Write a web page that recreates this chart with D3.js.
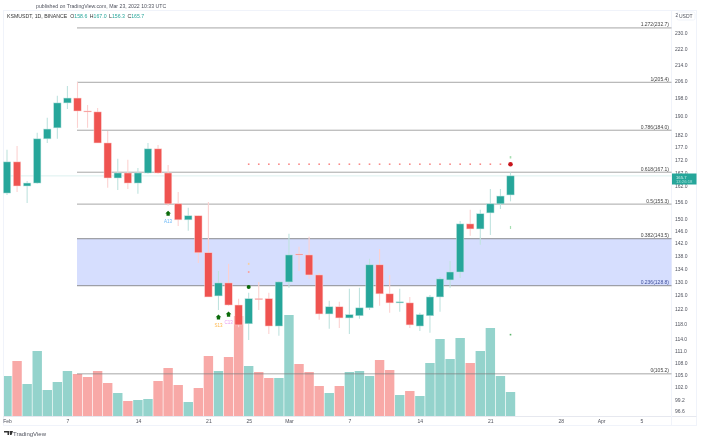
<!DOCTYPE html>
<html>
<head>
<meta charset="utf-8">
<script src="https://d3js.org/d3.v7.min.js"></script>
<style>
  html, body { margin: 0; padding: 0; background: #fff; }
  #chart { filter: blur(0.3px); }
  text { font-family: "Liberation Sans", sans-serif; }
  .axis path, .axis line { display: none; }
  .axis text { font-family: "Liberation Sans", sans-serif; font-size: 5px; fill: #50535e; }
</style>
</head>
<body>
<svg id="chart" width="701" height="440"></svg>
<script>
// daily candles, Feb 1 to Mar 23 2022
var opens  = [159.3,171.1,161.9,163.0,180.4,185.0,195.9,198.1,192.3,191.9,178.7,164.9,166.8,163.0,166.8,176.3,166.8,155.4,149.8,151.2,138.9,125.8,129.6,123.2,118.0,125.0,125.0,117.4,129.9,138.5,138.2,132.0,120.7,122.7,119.6,120.2,122.4,135.1,126.4,123.8,123.8,117.4,120.2,125.5,130.5,132.9,148.4,146.7,152.2,155.4,158.6];
var highs  = [175.9,177.5,163.8,182.9,189.3,199.1,203.7,205.5,195.0,193.6,183.7,172.3,171.9,168.7,178.7,177.9,169.9,159.7,154.0,151.2,156.1,133.2,135.4,125.0,126.7,129.9,126.7,130.2,145.1,140.8,144.1,132.6,124.4,124.1,127.9,128.2,137.0,140.1,132.0,127.9,125.5,121.0,126.1,131.4,136.3,149.4,153.3,153.3,160.8,160.8,167.0];
var lows   = [158.6,159.7,155.7,162.7,178.7,180.4,193.2,185.0,185.0,178.7,161.2,160.4,160.8,159.0,166.5,166.5,154.7,147.7,146.1,135.7,125.5,121.8,123.0,117.1,113.7,121.8,115.3,114.8,128.2,133.2,130.8,119.1,116.7,116.9,115.3,119.4,121.8,123.0,121.0,121.3,116.9,116.1,115.6,121.3,128.2,131.1,144.4,141.5,144.7,153.6,156.3];
var closes = [171.1,161.9,163.0,180.4,184.5,195.9,198.1,192.3,191.9,178.7,164.9,166.8,163.0,166.8,176.3,166.8,155.4,149.8,151.2,138.9,125.5,129.6,123.2,117.7,125.0,124.8,117.4,129.9,138.2,138.2,132.0,120.7,122.7,119.6,120.5,122.4,135.1,126.4,123.8,124.1,117.7,120.5,125.5,130.8,132.9,148.4,146.7,151.9,155.4,158.2,165.7];
var volumes = [40,55,32,65,26,34,45,42,39,45,33,23,15,16,17,35,48,31,14,28,60,45,59,100,50,44,38,38,101,52,44,30,23,30,44,45,40,56,46,21,25,20,53,77,57,78,53,65,88,40,24];

// fibonacci retracement
var fibRatios = ["1.272","1","0.786","0.618","0.5","0.382","0.236","0"];
var fibPrices = [232.7,205.4,184.0,167.1,155.3,143.5,128.8,105.2];

// axis ticks
var priceTicks = [230,222,214,206,198,190,182,177,172,167,162,156,150,146,142,138,134,130,126,122,118,114,111,108,105,102,99.2,96.6];
var timeTickDays = [0,6,13,20,24,28,34,41,48,55,59,63];
var timeTickLabels = ["Feb","7","14","21","25","Mar","7","14","21","28","Apr","5"];

// indicator marks
var stopDays = [24,25,26,27,28,29,30,31,32,33,34,35,36,37,38,39,40,41,42,43,44,45,46,47,48,49];
var stopPrice = 170.2;
var signalDays = [16,21,22];
var signalPrices = [152.0,119.8,120.6];
var signalLabels = ["A13","S13","C13"];
var signalColors = ["#64b5f6","#ffb74d","#e79cf0"];

var green = "#26a69a", red = "#ef5350";
var svg = d3.select("#chart");

var x = d3.scaleLinear().domain([0, 50]).range([7, 510.5]);
var y = d3.scaleLog().domain([230, 96.6]).range([33, 411]);
var vol = d3.scaleLinear().domain([0, 100]).range([416, 316]);
var days = d3.range(opens.length);
function isUp(i) { return closes[i] >= opens[i]; }

// keep marks inside the pane
svg.append("clipPath").attr("id", "pane").append("rect")
	.attr("x", 4).attr("y", 11).attr("width", 667.5).attr("height", 405);

// frame
svg.append("rect").attr("x", 3.5).attr("y", 10.5).attr("width", 693).attr("height", 415)
	.attr("fill", "none").attr("stroke", "#f0f3fa");
svg.append("line").attr("x1", 3.5).attr("x2", 696.5).attr("y1", 416.5).attr("y2", 416.5).attr("stroke", "#e6e8ef");
svg.append("line").attr("x1", 671.5).attr("x2", 671.5).attr("y1", 10.5).attr("y2", 425.5).attr("stroke", "#f0f3fa");

// zone between 0.382 and 0.236
svg.append("rect")
	.attr("x", 77).attr("width", 594.5)
	.attr("y", y(143.5)).attr("height", y(128.8) - y(143.5))
	.attr("fill", "#d6defe");

// volume
svg.append("g").attr("clip-path", "url(#pane)").selectAll("rect").data(days).enter().append("rect")
	.attr("x", function(d) { return x(d) - 4.7; })
	.attr("width", 9.4)
	.attr("y", function(d) { return vol(volumes[d]); })
	.attr("height", function(d) { return 416 - vol(volumes[d]); })
	.attr("fill", function(d) { return isUp(d) ? "#94d3cc" : "#f8a9a7"; });

// last price line
svg.append("line").attr("x1", 3.5).attr("x2", 671.5)
	.attr("y1", y(165.7)).attr("y2", y(165.7))
	.attr("stroke", green).attr("stroke-opacity", 0.2).attr("stroke-width", 0.8);

// fib levels
var fib = svg.append("g").selectAll("g").data(fibPrices).enter().append("g");
fib.append("line")
	.attr("x1", 77).attr("x2", 671.5)
	.attr("y1", function(d) { return y(d); })
	.attr("y2", function(d) { return y(d); })
	.attr("stroke", "#787878").attr("stroke-opacity", 0.65)
	.attr("stroke-width", function(d) { return (d == 143.5 || d == 128.8) ? 1.3 : 1; });
fib.append("text")
	.attr("x", 669)
	.attr("y", function(d) { return y(d) - 1.5; })
	.attr("text-anchor", "end")
	.attr("font-size", 5)
	.attr("fill", function(d) { return d == 128.8 ? "#3f4f9a" : "#444"; })
	.text(function(d, i) { return fibRatios[i] + "(" + d.toFixed(1) + ")"; });

// candles
var candles = svg.append("g").selectAll("g").data(days).enter().append("g");
candles.append("line")
	.attr("x1", function(d) { return x(d); })
	.attr("x2", function(d) { return x(d); })
	.attr("y1", function(d) { return y(highs[d]); })
	.attr("y2", function(d) { return y(lows[d]); })
	.attr("stroke", function(d) { return isUp(d) ? "#bfe3df" : "#fcd2d1"; })
	.attr("stroke-width", 1.1);
candles.append("rect")
	.attr("x", function(d) { return x(d) - 3.7; })
	.attr("width", 7.4)
	.attr("y", function(d) { return y(Math.max(opens[d], closes[d])); })
	.attr("height", function(d) { return Math.max(0.8, Math.abs(y(opens[d]) - y(closes[d]))); })
	.attr("fill", function(d) { return isUp(d) ? green : red; })
	.attr("stroke", function(d) { return isUp(d) ? "#bfe3df" : "#fcd2d1"; })
	.attr("stroke-width", 0.5);

// dotted stop line
svg.append("g").selectAll("rect").data(stopDays).enter().append("rect")
	.attr("x", function(d) { return x(d) - 0.8; })
	.attr("y", y(stopPrice) - 0.8)
	.attr("width", 1.6).attr("height", 1.6)
	.attr("fill", "#f88a88");

// house shaped signal marks
var house = { draw: function(c, s) {
	var r = Math.sqrt(s) / 2;
	c.moveTo(0, -r * 1.2);
	c.lineTo(r * 1.2, 0);
	c.lineTo(r * 0.7, 0);
	c.lineTo(r * 0.7, r);
	c.lineTo(-r * 0.7, r);
	c.lineTo(-r * 0.7, 0);
	c.lineTo(-r * 1.2, 0);
	c.closePath();
} };
var signals = svg.append("g").selectAll("g").data(signalDays).enter().append("g")
	.attr("transform", function(d, i) { return "translate(" + x(d) + "," + y(signalPrices[i]) + ")"; });
signals.append("path").attr("d", d3.symbol().type(house).size(22)).attr("fill", "#0b6b0b");
signals.append("text")
	.attr("y", 9.5).attr("text-anchor", "middle").attr("font-size", 4.5)
	.attr("fill", function(d, i) { return signalColors[i]; })
	.text(function(d, i) { return signalLabels[i]; });

// marks over day 24
svg.append("circle").attr("cx", x(24)).attr("cy", y(128.4)).attr("r", 2).attr("fill", "#0b6b0b");
svg.append("rect").attr("x", x(24) - 0.8).attr("y", y(132.9) - 1).attr("width", 1.6).attr("height", 2).attr("fill", "#f6a6a6");
svg.append("rect").attr("x", x(24) - 0.8).attr("y", y(135.4) - 1).attr("width", 1.6).attr("height", 2).attr("fill", "#f7cfa0");

// marks over the last day
svg.append("circle").attr("cx", x(50)).attr("cy", y(stopPrice)).attr("r", 2.3).attr("fill", "#c8161d");
svg.append("rect").attr("x", x(50) - 0.8).attr("y", y(173) - 1).attr("width", 1.6).attr("height", 2.4).attr("fill", "#a5dfb0");
svg.append("rect").attr("x", x(50) - 0.6).attr("y", y(147.2) - 1.5).attr("width", 1.2).attr("height", 3).attr("fill", "#a5dfb0");
svg.append("rect").attr("x", x(50) - 0.8).attr("y", y(115.1) - 0.8).attr("width", 1.6).attr("height", 1.6).attr("fill", "#5cb56c");

// axes
svg.append("g").attr("class", "axis")
	.attr("transform", "translate(672,0)")
	.call(d3.axisRight(y).tickValues(priceTicks).tickSize(0).tickPadding(3)
		.tickFormat(function(d) { return d.toFixed(1); }));
svg.append("g").attr("class", "axis")
	.attr("transform", "translate(0,417)")
	.call(d3.axisBottom(x).tickValues(timeTickDays).tickSize(0).tickPadding(2)
		.tickFormat(function(d, i) { return timeTickLabels[i]; }));

// price label
svg.append("rect").attr("x", 672).attr("y", 173.5).attr("width", 24.5).attr("height", 11).attr("fill", green);
svg.append("text").attr("x", 676).attr("y", 178.6).attr("font-size", 4.2).attr("fill", "#d8f2ef").text("165.7");
svg.append("text").attr("x", 676).attr("y", 182.8).attr("font-size", 4.2).attr("fill", "#a8e0da").text("13:26:18");

// currency badge
svg.append("rect").attr("x", 677).attr("y", 12).attr("width", 18).attr("height", 8).attr("rx", 1.5)
	.attr("fill", "#fff").attr("stroke", "#f0f3fa");
svg.append("text").attr("x", 679).attr("y", 18).attr("font-size", 5).attr("fill", "#50535e").text("USDT");
svg.append("text").attr("x", 675.5).attr("y", 17).attr("font-size", 4.5).attr("fill", "#50535e").text("2");

// header
svg.append("text").attr("x", 36).attr("y", 8).attr("font-size", 5.2).attr("fill", "#50535e")
	.text("published on TradingView.com, Mar 23, 2022 10:33 UTC");
var legend = svg.append("text").attr("x", 7).attr("y", 18).attr("font-size", 5.2).attr("fill", "#333");
legend.append("tspan").text("KSMUSDT, 1D, BINANCE");
[["O", "158.6"], ["H", "167.0"], ["L", "156.3"], ["C", "165.7"]].forEach(function(p, i) {
	legend.append("tspan").attr("dx", i == 0 ? 3 : 2.5).text(p[0]);
	legend.append("tspan").attr("fill", green).text(p[1]);
});

// footer
svg.append("path").attr("d", "M4 431h5v4h-1.5v-2.5H4zM9.5 431h3.5l-1.5 4h-1.5z").attr("fill", "#333");
svg.append("text").attr("x", 13).attr("y", 435.5).attr("font-size", 6).attr("fill", "#50535e").text("TradingView");
</script>
</body>
</html>
